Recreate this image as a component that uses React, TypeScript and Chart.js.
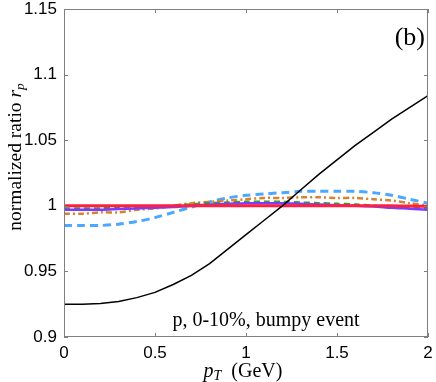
import React, { useEffect, useRef } from "react";
import { Chart, registerables } from "chart.js";

Chart.register(...registerables);

const pT = [0, 0.1, 0.2, 0.3, 0.4, 0.5, 0.6, 0.7, 0.8, 0.9, 1.0, 1.1, 1.2, 1.3, 1.4, 1.5, 1.6, 1.7, 1.8, 1.9, 2.0];
const blackVals = [0.925, 0.925, 0.9255, 0.927, 0.93, 0.934, 0.94, 0.947, 0.956, 0.967, 0.978, 0.989, 1.0, 1.012, 1.024, 1.035, 1.046, 1.056, 1.066, 1.075, 1.084];
const redVals = [1.0, 1.0, 1.0, 1.0, 1.0, 1.0, 1.0, 1.0, 1.0, 1.0, 1.0, 1.0, 1.0, 1.0, 1.0, 1.0, 1.0, 1.0, 1.0, 0.9998, 0.9996];
const purpleVals = [0.997, 0.997, 0.997, 0.9975, 0.998, 0.9985, 0.999, 1.0, 1.001, 1.0015, 1.002, 1.002, 1.002, 1.0015, 1.001, 1.0005, 1.0, 0.9995, 0.9985, 0.9978, 0.997];
const greenVals = [0.998, 0.998, 0.998, 0.9985, 0.999, 0.9995, 1.0, 1.001, 1.002, 1.0025, 1.003, 1.003, 1.003, 1.0025, 1.002, 1.0015, 1.001, 1.0, 0.999, 0.9985, 0.998];
const orangeVals = [0.994, 0.994, 0.995, 0.995, 0.997, 0.998, 1.0, 1.002, 1.003, 1.004, 1.005, 1.006, 1.006, 1.0065, 1.0065, 1.006, 1.006, 1.005, 1.004, 1.002, 1.0];
const blueVals = [0.985, 0.985, 0.985, 0.986, 0.988, 0.991, 0.995, 0.999, 1.003, 1.006, 1.008, 1.009, 1.01, 1.011, 1.011, 1.011, 1.011, 1.01, 1.008, 1.005, 1.002];

const xTicks = [0, 0.5, 1, 1.5, 2];
const yTicks = [0.9, 0.95, 1, 1.05, 1.1, 1.15];

const pts = (vals: number[]) => vals.map((v, i) => ({ x: pT[i], y: v }));

const framePlugin = {
  id: "frame",
  afterDraw(chart: any) {
    const { ctx, chartArea: a, scales } = chart;
    ctx.save();
    ctx.strokeStyle = "#7f7f7f";
    ctx.lineWidth = 1;
    ctx.strokeRect(a.left + 0.5, a.top + 0.5, a.right - a.left - 1, a.bottom - a.top - 1);
    const tl = 4;
    ctx.beginPath();
    for (const v of xTicks) {
      const x = Math.round(scales.x.getPixelForValue(v)) + 0.5;
      ctx.moveTo(x, a.bottom);
      ctx.lineTo(x, a.bottom - tl);
      ctx.moveTo(x, a.top);
      ctx.lineTo(x, a.top + tl);
    }
    for (const v of yTicks) {
      const y = Math.round(scales.y.getPixelForValue(v)) + 0.5;
      ctx.moveTo(a.left, y);
      ctx.lineTo(a.left + tl, y);
      ctx.moveTo(a.right, y);
      ctx.lineTo(a.right - tl, y);
    }
    ctx.stroke();

    ctx.fillStyle = "#000";
    const lserif = '"Liberation Serif", serif';
    // (b)
    ctx.font = `26px ${lserif}`;
    ctx.textAlign = "right";
    ctx.textBaseline = "alphabetic";
    ctx.fillText("(b)", a.right - 3, 45);
    // annotation
    ctx.font = `20px ${lserif}`;
    ctx.textAlign = "center";
    ctx.fillText("p, 0-10%, bumpy event", 266, 326);

    // x title: p_T (GeV)
    ctx.textAlign = "left";
    const xCenter = 243;
    const base = 377;
    ctx.font = `italic 20px ${lserif}`;
    const wp = ctx.measureText("p").width;
    ctx.font = `italic 14px ${lserif}`;
    const wT = ctx.measureText("T").width;
    ctx.font = `20px ${lserif}`;
    const rest = "  (GeV)";
    const wr = ctx.measureText(rest).width;
    const x0 = xCenter - (wp + wT + wr) / 2;
    ctx.font = `italic 20px ${lserif}`;
    ctx.fillText("p", x0, base);
    ctx.font = `italic 14px ${lserif}`;
    ctx.fillText("T", x0 + wp, base + 3);
    ctx.font = `20px ${lserif}`;
    ctx.fillText(rest, x0 + wp + wT, base);

    // y title rotated
    ctx.save();
    ctx.translate(21, 157);
    ctx.rotate(-Math.PI / 2);
    ctx.font = `19.5px ${lserif}`;
    const t1 = "normalized ratio ";
    const w1 = ctx.measureText(t1).width;
    ctx.font = `italic 19.5px ${lserif}`;
    const w2 = ctx.measureText("r").width;
    ctx.font = `italic 13.5px ${lserif}`;
    const w3 = ctx.measureText("p").width;
    const s = -(w1 + w2 + w3) / 2;
    ctx.font = `19.5px ${lserif}`;
    ctx.fillText(t1, s, 0);
    ctx.font = `italic 19.5px ${lserif}`;
    ctx.fillText("r", s + w1, 0);
    ctx.font = `italic 13.5px ${lserif}`;
    ctx.fillText("p", s + w1 + w2, 3);
    ctx.restore();
    ctx.restore();
  },
};

export default function App() {
  const ref = useRef<HTMLCanvasElement>(null);
  useEffect(() => {
    document.body.style.margin = "0";
    const chart = new Chart(ref.current!, {
      type: "line",
      data: {
        datasets: [
          { data: pts(blackVals), borderColor: "#000000", borderWidth: 1.5, pointRadius: 0, tension: 0 },
          { data: pts(redVals), borderColor: "#ff2040", borderWidth: 3, pointRadius: 0, tension: 0.3 },
          { data: pts(purpleVals), borderColor: "#7a3cff", borderWidth: 2.5, pointRadius: 0, tension: 0.3 },
          { data: pts(greenVals), borderColor: "#3c9a2a", borderWidth: 2.5, borderDash: [6, 4], pointRadius: 0, tension: 0.3 },
          { data: pts(orangeVals), borderColor: "#d9822b", borderWidth: 2.5, borderDash: [6, 3, 2, 3], pointRadius: 0, tension: 0.3 },
          { data: pts(blueVals), borderColor: "#4aa8ff", borderWidth: 3, borderDash: [8, 5], pointRadius: 0, tension: 0.3 },
        ],
      },
      options: {
        animation: false,
        responsive: false,
        layout: { padding: { top: 9, right: 8, left: 0, bottom: 0 } },
        plugins: { legend: { display: false }, tooltip: { enabled: false } },
        scales: {
          x: {
            type: "linear",
            min: 0,
            max: 2,
            border: { display: false },
            grid: { display: false, drawTicks: false },
            afterBuildTicks: (sc: any) => {
              sc.ticks = xTicks.map((v) => ({ value: v }));
            },
            afterFit: (sc: any) => {
              sc.height = 45;
              sc.paddingLeft = 0;
              sc.paddingRight = 0;
            },
            ticks: {
              padding: 6,
              color: "#000",
              maxRotation: 0,
              font: { family: '"Liberation Sans", Arial, sans-serif', size: 17 },
              callback: (v: any) => String(+Number(v).toFixed(2)),
            },
          },
          y: {
            type: "linear",
            min: 0.9,
            max: 1.15,
            border: { display: false },
            grid: { display: false, drawTicks: false },
            afterBuildTicks: (sc: any) => {
              sc.ticks = yTicks.map((v) => ({ value: v }));
            },
            afterFit: (sc: any) => {
              sc.width = 64;
              sc.paddingTop = 0;
              sc.paddingBottom = 0;
            },
            ticks: {
              padding: 7,
              color: "#000",
              font: { family: '"Liberation Sans", Arial, sans-serif', size: 17 },
              callback: (v: any) => String(+Number(v).toFixed(2)),
            },
          },
        },
      },
      plugins: [framePlugin],
    });
    return () => chart.destroy();
  }, []);
  return <canvas ref={ref} width={436} height={382} style={{ display: "block" }} />;
}
